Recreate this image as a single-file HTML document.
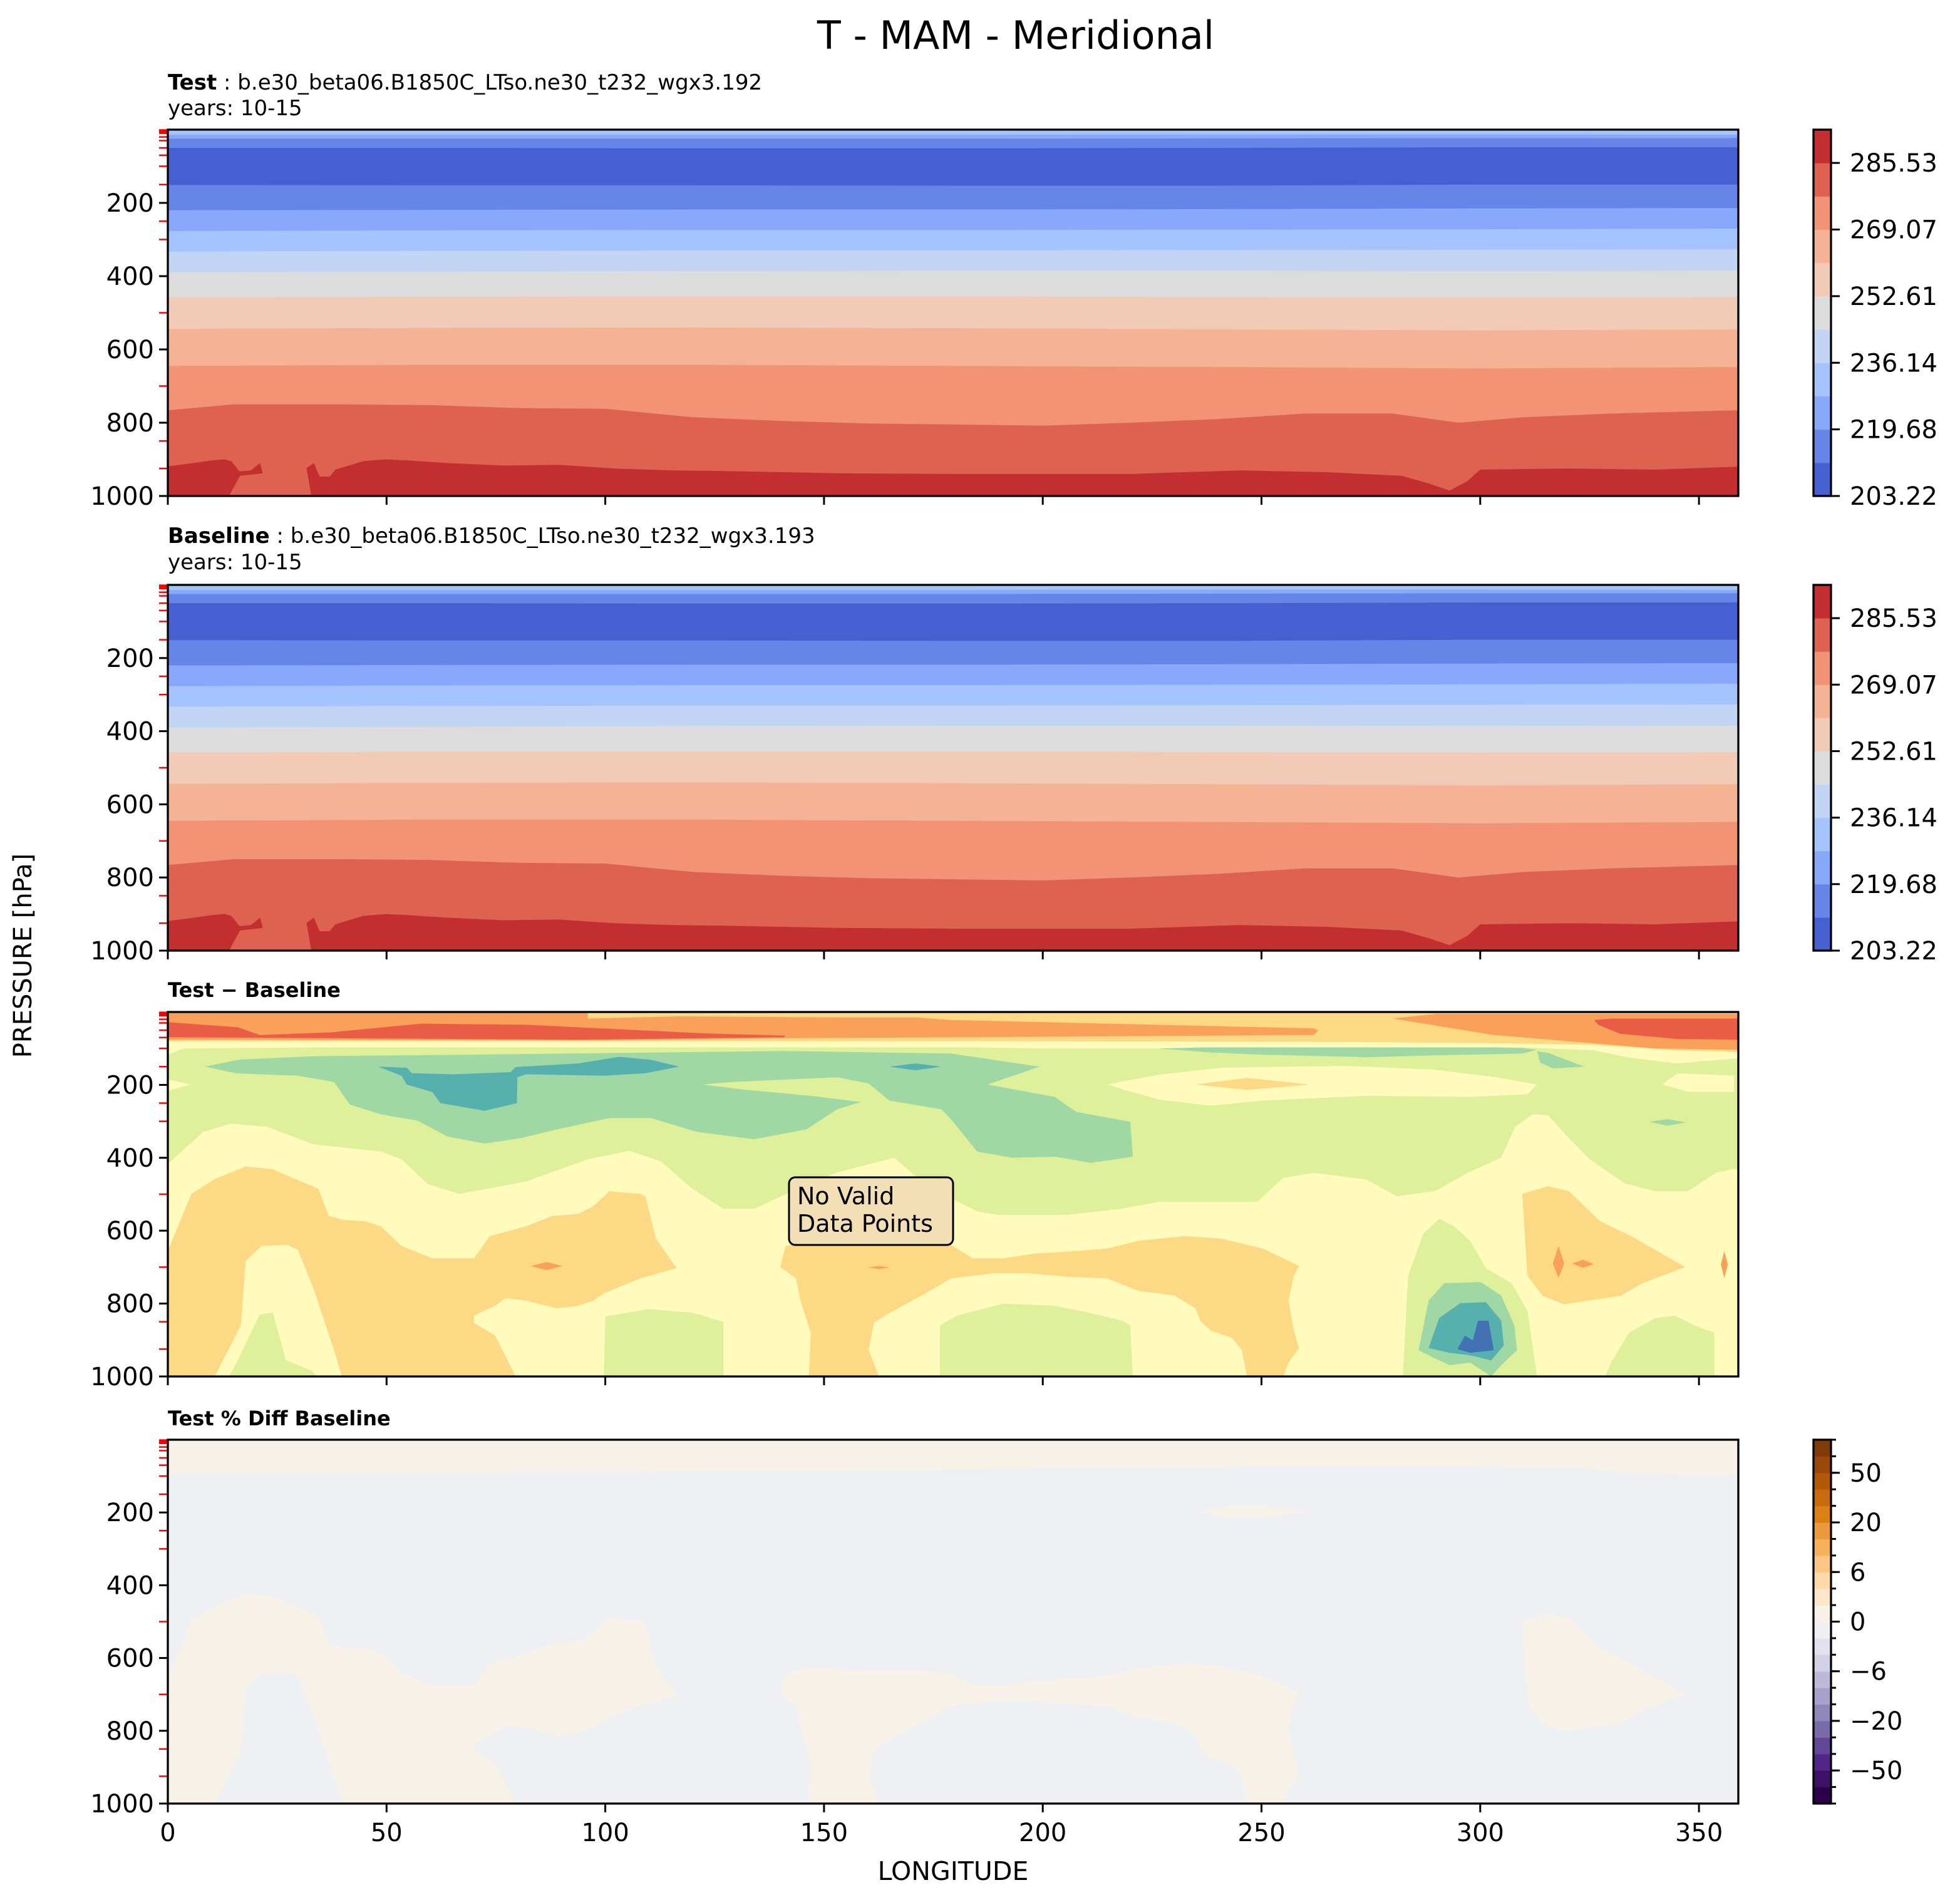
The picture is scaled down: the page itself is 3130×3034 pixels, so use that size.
<!DOCTYPE html>
<html><head><meta charset="utf-8"><title>T - MAM - Meridional</title>
<style>html,body{margin:0;padding:0;background:#fff}svg{display:block}text{font-family:"DejaVu Sans","Liberation Sans",sans-serif}</style>
</head><body>
<svg id="fig" xmlns="http://www.w3.org/2000/svg" width="3130" height="3034" viewBox="0 0 3130 3034">
<text x="1622" y="78" font-size="62" text-anchor="middle">T - MAM - Meridional</text>
<text x="268" y="143" font-size="34"><tspan font-weight="bold">Test</tspan><tspan> : b.e30_beta06.B1850C_LTso.ne30_t232_wgx3.192</tspan></text>
<text x="268" y="184" font-size="34">years: 10-15</text>
<text x="268" y="867" font-size="34"><tspan font-weight="bold">Baseline</tspan><tspan> : b.e30_beta06.B1850C_LTso.ne30_t232_wgx3.193</tspan></text>
<text x="268" y="909" font-size="34">years: 10-15</text>
<text x="268" y="1592" font-size="32" font-weight="bold">Test − Baseline</text>
<text x="268" y="2276" font-size="32" font-weight="bold">Test % Diff Baseline</text>
<text transform="translate(50,1526) rotate(-90)" font-size="40" text-anchor="middle">PRESSURE [hPa]</text>
<text x="1522" y="3002" font-size="41" text-anchor="middle">LONGITUDE</text>
</svg>
<script>
// ---------- data ----------
const lonGrid=[0,60,120,180,240,300,359];
const tBounds=[[14,14,14,14,13,13,14],[25,25,25,25,24,23,23],[50,50,51,51,50,48,48],[151,152,152,153,153,150,150],[220,219,218,218,217,215,214],[277,275,274,274,273,272,270],[333,331,330,330,329,328,327],[390,388,386,385,385,386,385],[458,456,455,455,457,458,457],[544,541,540,542,545,548,545],[645,642,642,645,648,652,648]];
const tBandColors=["#a5c3fe","#87a8fb","#6585e9","#4760d1","#6585e9","#87a8fb","#a5c3fe","#c3d5f4","#dcdcdc","#f2cbb7","#f5b396","#f19374","#de6250","#c32f31"];
const boundary765=[[0,766],[15,750],[40,750],[60,752],[80,760],[100,762],[120,785],[140,795],[160,802],[180,805],[200,808],[220,800],[240,790],[260,775],[280,775],[295,800],[310,785],[330,775],[359,766]];
const darkRedTop=[[0,919],[4,913],[10,903],[13,900],[14.5,905],[16.4,933],[19,930],[21.1,910],[21.7,938],[16.5,945],[14,1000],[32.8,1000],[31.7,924],[33.4,910],[34.7,947],[37,947],[38.3,928],[44.7,905],[49.8,900],[55,903],[63.9,910],[76.6,917],[89.4,915],[102,925],[115,930],[127.8,932],[140.5,935],[153.3,938],[180,940],[220,940],[245,930],[265,935],[282,945],[288,965],[293,985],[297,960],[300,928],[320,925],[340,928],[359,920]];
const cbTempTicks=["203.22","219.68","236.14","252.61","269.07","285.53"];
const cbTempColors=["#4760d1","#6585e9","#87a8fb","#a5c3fe","#c3d5f4","#dcdcdc","#f2cbb7","#f5b396","#f19374","#de6250","#c32f31"];
const yTicks=[200,400,600,800,1000];
const xTicks=[0,50,100,150,200,250,300,350];
const levelTicks=[1,2,3,5,7,10,20,30,50,70,100,150,250,300,500,700,850,925];
// diff panel polygons [lon, hPa]
const lgUpper=[[0,117],[3.6,100],[34.4,97],[100,97],[185,97],[200,100],[226.5,100],[310,97],[326,105],[334,125],[345,141],[359,127],[359,431],[358,431],[354,440],[347.5,492],[340,492],[333,470],[325,404],[319,330],[315.5,283],[312,281],[308,315],[304.8,400],[297,442],[290,490],[281,506],[274,460],[262,441],[255,455],[249,521],[238,521],[226.5,521],[218,540],[205,557],[190,557],[185,547],[173.2,474],[166.1,400],[153,440],[141.2,500],[134.1,540],[127,540],[119.9,485],[112.7,410],[105.6,381],[96.1,404],[81.9,465],[70,492],[66.5,499],[59.4,472],[53.4,404],[48.7,383],[33.3,363],[22.6,315],[14.3,306],[8,330],[0,417]];
const yelBlobs=[[[0,185],[5.4,199],[0,216]],[[341.6,199],[345.2,168],[358,175],[358,219],[347.5,219]],[[214.7,199],[226.5,172],[240.8,153],[269.3,148],[289.4,158],[303.6,179],[313,199],[310.8,226],[297.7,233],[274,230],[250.3,243],[238.4,257],[226.5,240],[219.4,216]]];
const greenPolys=[[[8.4,150],[16.7,130],[34.4,121],[70,117],[105,112],[141,107],[179,114],[199.3,150],[187.4,199],[202.8,233],[207.6,274],[220,301],[220.6,397],[211,414],[203,397],[193,400],[185,383],[179,294],[176.8,267],[164.9,243],[160.2,196],[153,179],[129.3,192],[122.2,199],[131.7,213],[147,230],[158.4,247],[153,267],[146,322],[134,349],[121,329],[110.4,291],[101,291],[89,322],[80.7,346],[72.4,361],[64,342],[57,298],[48.7,281],[41.6,254],[38,192],[29.7,175],[15.5,168]],[[226.5,100],[250.3,93],[285.9,91],[309.6,99],[313,104],[309.6,114],[289.4,119],[274,124],[250.3,117],[238.4,111]],[[313,108],[315.5,112],[323.8,150],[316.7,155],[313.7,139]],[[338.6,301],[342.8,294],[347,303],[342.8,312]]];
const tealPolys=[[[48.1,150],[54.6,153],[55.8,168],[65.3,171],[78.3,165],[79.5,151],[93.8,141],[103.2,123],[110.4,131],[116.9,150],[109.2,168],[99.7,175],[81.9,171],[79.9,179],[79.8,250],[72.4,271],[62.3,250],[60.5,220],[54.6,199],[53.4,175]],[[164.9,150],[170.9,141],[176.8,150],[170.9,160]]];
const orangeLow=[[[0,656],[5.4,499],[10.7,458],[17.8,424],[23.8,431],[34.4,485],[36.8,560],[40.4,571],[45.1,574],[48.7,588],[53.4,642],[60.5,676],[70,676],[73.6,615],[81.9,588],[87.8,560],[93.8,554],[97.3,533],[100.9,492],[108,499],[109.2,506],[111.6,622],[116.3,703],[108,731],[99.7,772],[97.3,792],[93.8,806],[89,813],[81.9,792],[77.2,785],[74.8,806],[70,833],[70,853],[74.8,888],[79.5,1000],[39.8,1000],[38,928],[33.3,758],[29.7,652],[27.3,639],[21.4,642],[17.8,683],[16.7,860],[10.7,1000],[0,1000]],[[140,700],[141.2,642],[146,630],[179,639],[184,676],[191,676],[198,663],[207.6,656],[214.7,649],[221.8,628],[232.5,615],[240.8,622],[250.3,649],[258.6,697],[257.4,724],[256.2,792],[257.4,874],[258.6,922],[256.2,962],[255,1000],[246.7,1000],[245.5,928],[243.2,894],[238.4,874],[236,847],[234.9,813],[230.1,778],[221.8,765],[214.7,731],[206.4,727],[196.9,717],[188.6,717],[179.1,731],[173.2,772],[164.9,826],[161.4,853],[160.2,928],[162.6,1000],[146.5,1000],[147,881],[144.6,792],[143.6,731]],[[309.6,499],[315.5,478],[320.3,492],[327.4,574],[334.5,615],[346.9,700],[336.9,745],[332.1,779],[319.1,802],[314.3,779],[310.8,724]]];
const lgLow=[[[14,1000],[16,955],[21,830],[24,825],[27,955],[33,985],[34,1000]],[[99.7,1000],[100,835],[105,825],[110,815],[120,825],[127,850],[127,1000]],[[176.5,1000],[176.5,860],[180.4,833],[191,800],[202.8,806],[211,826],[218.2,847],[220,860],[220.6,1000]],[[328.5,1000],[330,960],[334,880],[340,840],[344.5,833],[349,860],[353.5,880],[353.5,1000]],[[282.3,1000],[283.5,724],[287,608],[290.6,567],[294,588],[297.7,628],[301.3,703],[307.2,744],[310.8,820],[313,1000]]];
const greenLow=[[285.9,928],[288.2,792],[291.8,744],[300.1,741],[304.8,778],[307.8,860],[308.4,928],[304.8,969],[302.5,1000],[297.7,962],[293,969],[289.4,949]];
const tealLow=[[288.2,922],[290.6,840],[295.4,799],[301.3,796],[304.8,847],[305.4,915],[302.5,956],[297.7,942],[293,935]];
const blueLow=[[294.8,925],[296.5,888],[298.3,901],[299.5,847],[301.9,847],[303.1,928],[297.7,935]];
const orangeSpots=[[[83,697],[86.6,686],[90.2,697],[86.6,708]],[[160,701],[162.6,697],[165.2,701],[162.6,705]],[[316.6,690],[317.9,642],[319.2,690],[317.9,729]],[[321,690],[323.5,680],[326,692],[323.5,702]],[[355,693],[355.8,656],[356.6,693],[355.8,730]],[[234.9,199],[246.7,181],[261,199],[246.7,214]]];
// top stripes
const stripeYellow=[[0,0],[359,0],[359,125],[345,141],[334,125],[326,105],[310,97],[0,97]];
const stripeLightOr=[[0,0],[359,0],[359,110],[345,105],[326,90],[300,85],[262,82],[185,80],[100,80],[0,80]];
const stripeOrange=[[[0,2],[96,2],[96,18],[117,12],[153,15],[171,15],[179,22],[262,45],[263,50],[262,63],[185,69],[141,72],[100,78],[0,76]],[[280,18],[290,5],[359,5],[359,104],[340,100],[322,82],[303,63],[282,22]]];
const stripeRed=[[[0,28],[16,42],[21,63],[37,56],[58,32],[82,35],[106,49],[123,59],[141,65],[141,69],[94,76],[0,69]],[[326,22],[330,18],[359,18],[359,76],[345,74],[332,60],[327,35]]];
// pct diff panel
const pctTopBand=[[0,0],[359,0],[359,95],[350,98],[335,92],[320,75],[290,73],[250,73],[200,80],[150,85],[100,88],[50,90],[0,89]];
const pctBlob=[[235.3,198],[242,183],[250,181],[260.8,198],[250,214],[242,214]];
const cbPctTicks=["50","20","6","0","\u22126","\u221220","\u221250"];
const cbPctColors=["#7f3b08","#9a4807","#b35806","#c96a0e","#dc7f15","#ea9a3a","#f6b15c","#fdc685","#fed9a7","#fde6c9","#f8f1e8","#eff0f4","#e1e2ee","#d1d2e6","#bdbad9","#a9a1cb","#8f87b9","#7a6aa7","#634797","#522688","#3e1168","#2d004b"];

// ---------- drawing ----------
const NS="http://www.w3.org/2000/svg";const svg=document.getElementById('fig');
function mk(tag,attrs,parent){const e=document.createElementNS(NS,tag);for(const k in attrs)e.setAttribute(k,attrs[k]);(parent||svg).appendChild(e);return e;}
const X0=268,X1=2776,LONMAX=359;
const panels=[{top:207,bot:792},{top:934,bot:1518},{top:1616,bot:2198},{top:2299,bot:2880}];
function xs(lon){return X0+lon/LONMAX*(X1-X0);}
function ysF(P){return p=>P.top+p/1000*(P.bot-P.top);}
function pts(arr,ys){return arr.map(d=>xs(d[0]).toFixed(1)+','+ys(d[1]).toFixed(1)).join(' ');}
function interp(b,lon){for(let i=0;i<lonGrid.length-1;i++){if(lon<=lonGrid[i+1]){const t=(lon-lonGrid[i])/(lonGrid[i+1]-lonGrid[i]);return b[i]+t*(b[i+1]-b[i]);}}return b[b.length-1];}
function clipG(i,name){const P=panels[i];const cp=mk('clipPath',{id:'cp'+i});mk('rect',{x:X0,y:P.top,width:X1-X0,height:P.bot-P.top},cp);const g=mk('g',{'clip-path':'url(#cp'+i+')'});return g;}
function poly(g,arr,ys,fill,name){const e=mk('polygon',{points:pts(arr,ys),fill:fill},g);return e;}

function tempPanel(i,name){
  const P=panels[i],ys=ysF(P),g=clipG(i,name);
  const lons=[];for(let l=0;l<=LONMAX;l+=6)lons.push(l);lons.push(LONMAX);
  const bounds=[[...lonGrid.map(()=>0)]].concat(tBounds);
  for(let k=0;k<bounds.length;k++){
    const top=lons.map(l=>[l,interp(bounds[k],l)]);
    const arr=top.concat([[LONMAX,1000],[0,1000]]);
    poly(g,arr,ys,tBandColors[k],'temp-band-'+k);
  }
  poly(g,boundary765.concat([[LONMAX,1000],[0,1000]]),ys,"#de6250",'temp-band-warm');
  poly(g,darkRedTop.concat([[LONMAX,1000],[0,1000]]),ys,"#c32f31",'temp-band-hottest');
}
tempPanel(0,'test-contour');tempPanel(1,'baseline-contour');

// diff panel
(function(){const P=panels[2],ys=ysF(P),g=clipG(2,'diff-contour');
  mk('rect',{x:X0,y:P.top,width:X1-X0,height:P.bot-P.top,fill:'#fefbbd'},g);
  orangeLow.forEach((a,k)=>poly(g,a,ys,'#fdd885','diff-warm-'+k));
  lgLow.forEach((a,k)=>poly(g,a,ys,'#dff09a','diff-cool-low-'+k));
  poly(g,greenLow,ys,'#9fd8a4','diff-cool-mid');poly(g,tealLow,ys,'#56b0ad','diff-cool-strong');poly(g,blueLow,ys,'#4470b4','diff-cool-max');
  poly(g,lgUpper,ys,'#dff09a','diff-upper-cool');
  yelBlobs.forEach((a,k)=>poly(g,a,ys,'#fefbbd','diff-neutral-'+k));
  greenPolys.forEach((a,k)=>poly(g,a,ys,'#9fd8a4','diff-green-'+k));
  tealPolys.forEach((a,k)=>poly(g,a,ys,'#56b0ad','diff-teal-'+k));
  orangeSpots.forEach((a,k)=>poly(g,a,ys,k==5?'#fdd885':'#f9a05a','diff-spot-'+k));
  poly(g,stripeYellow,ys,'#fefbbd','strat-neutral');poly(g,stripeLightOr,ys,'#fdd885','strat-warm');
  stripeOrange.forEach((a,k)=>poly(g,a,ys,'#f9a05a','strat-orange-'+k));
  stripeRed.forEach((a,k)=>poly(g,a,ys,'#e95d47','strat-red-'+k));
})();
// pct panel
(function(){const P=panels[3],ys=ysF(P),g=clipG(3,'pctdiff-contour');
  mk('rect',{x:X0,y:P.top,width:X1-X0,height:P.bot-P.top,fill:'#eff0f4'},g);
  orangeLow.forEach((a,k)=>poly(g,a,ys,'#f8f1e8','pct-positive-'+k));
  poly(g,pctTopBand,ys,'#f8f1e8','pct-positive-top');poly(g,pctBlob,ys,'#f8f1e8','pct-positive-blob');
})();

// axes
panels.forEach((P,i)=>{const ys=ysF(P);
  levelTicks.forEach(p=>{const l=mk('line',{x1:X0-14,x2:X0,y1:ys(p),y2:ys(p),stroke:'#ff0000','stroke-width':2.5});});
  yTicks.forEach(v=>{mk('line',{x1:X0-14,x2:X0,y1:ys(v),y2:ys(v),stroke:'#000','stroke-width':3});const t=mk('text',{x:X0-22,y:ys(v)+14,'font-size':40,'text-anchor':'end'});t.textContent=v;});
  xTicks.forEach(v=>{mk('line',{x1:xs(v),x2:xs(v),y1:P.bot,y2:P.bot+14,stroke:'#000','stroke-width':3});if(i==3){const t=mk('text',{x:xs(v),y:P.bot+60,'font-size':40,'text-anchor':'middle'});t.textContent=v;}});
  const r=mk('rect',{x:X0,y:P.top,width:X1-X0,height:P.bot-P.top,fill:'none',stroke:'#000','stroke-width':3.3});
});
// colorbars
function colorbar(P,colors,name){const g=mk('g',{});
  const n=colors.length,h=(P.bot-P.top)/n;
  colors.forEach((c,k)=>mk('rect',{x:2896,y:P.bot-(k+1)*h,width:28,height:h+0.5,fill:c},g));
  mk('rect',{x:2896,y:P.top,width:28,height:P.bot-P.top,fill:'none',stroke:'#000','stroke-width':3.3},g);return {g,h};}
[0,1].forEach(i=>{const P=panels[i];const {g,h}=colorbar(P,cbTempColors,'temp-colorbar-'+i);
  cbTempTicks.forEach((lab,k)=>{const y=P.bot-2*k*h;mk('line',{x1:2924,x2:2938,y1:y,y2:y,stroke:'#000','stroke-width':3},g);const t=mk('text',{x:2954,y:y+14,'font-size':40},g);t.textContent=lab;});});
(function(){const P=panels[3];const {g,h}=colorbar(P,cbPctColors.slice().reverse(),'pct-colorbar');
  for(let k=0;k<=cbPctColors.length;k++){const y=P.top+k*h;mk('line',{x1:2924,x2:2932,y1:y,y2:y,stroke:'#000','stroke-width':3},g);}
  cbPctTicks.forEach((lab,k)=>{const y=P.top+(2+3*k)*h;mk('line',{x1:2924,x2:2938,y1:y,y2:y,stroke:'#000','stroke-width':3},g);const t=mk('text',{x:2954,y:y+14,'font-size':40},g);t.textContent=lab;});})();
// no-valid box
const nb=mk('g',{});
mk('rect',{x:1260,y:1880,width:262,height:108,rx:10,fill:'#f3dfb6',stroke:'#000','stroke-width':3},nb);
const t1=mk('text',{x:1273,y:1923,'font-size':38},nb);t1.textContent='No Valid';
const t2=mk('text',{x:1273,y:1967,'font-size':38},nb);t2.textContent='Data Points';
</script>
</body></html>
